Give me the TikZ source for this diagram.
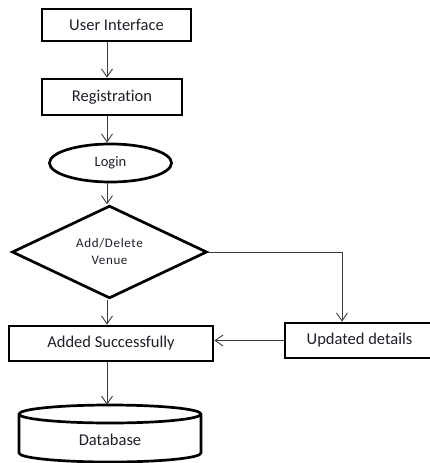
\documentclass[tikz,border=0pt]{standalone}
\usepackage{fontspec}
\setmainfont{Carlito}[Ligatures=NoCommon]
\usetikzlibrary{arrows.meta,shapes.geometric}
\definecolor{inkline}{HTML}{000000}
\definecolor{flowline}{HTML}{3C3C3C}
\definecolor{labeltext}{HTML}{1E1E28}
\tikzset{
  procbox/.style={draw=inkline, line width=2.7pt, fill=white, inner sep=0pt,
    text=labeltext, font=\fontsize{16.5}{19}\selectfont},
  flow/.style={draw=flowline, line width=0.9pt,
    -{Straight Barb[length=8pt,width=11pt,line width=0.9pt]}},
}
\begin{document}
\begin{tikzpicture}[x=1pt,y=-1pt]
  \useasboundingbox (0,0) rectangle (430,463);
  \clip (0,0) rectangle (430,463);
  % column of the main flow
  \coordinate (col) at (107,0);
  % boxes and shapes
  \node[procbox, minimum width=149pt, minimum height=32pt] (ui) at (116.5,25) {User Interface};
  \node[procbox, minimum width=140pt, minimum height=36pt] (reg) at (112,97) {Registration};
  \node[procbox, ellipse, minimum width=122pt, minimum height=38pt,
        font=\fontsize{14.5}{17}\selectfont] (login) at (110.5,163) {Login};
  \node[procbox, diamond, minimum width=195pt, minimum height=90pt,
        font=\fontsize{13}{17}\selectfont, align=center] (dia) at (109.5,252)
        {\addfontfeature{LetterSpace=5}Add/Delete\\\addfontfeature{LetterSpace=5}Venue};
  \node[procbox, minimum width=204pt, minimum height=35pt] (added) at (111,343.5) {Added Successfully};
  \node[procbox, minimum width=149pt, minimum height=35pt] (upd) at (359.5,340.5) {Updated details};
  % database cylinder: body with the back half of the lid, then the front half of the lid
  \node[inner sep=0pt, minimum width=182pt, minimum height=58pt] (db) at (110,434) {};
  \draw[inkline, line width=2.7pt, fill=white, line join=round]
    (19,414) -- (19,453) arc[start angle=180, end angle=0, x radius=91, y radius=9]
    -- (201,414) arc[start angle=0, end angle=-180, x radius=91, y radius=9] -- cycle;
  \draw[inkline, line width=2.7pt] (19,414) arc[start angle=180, end angle=0, x radius=91, y radius=9];
  \node[text=labeltext, font=\fontsize{16.5}{19}\selectfont] (dblabel) at (110,440) {Database};
  % connectors
  \coordinate (drop) at (342,252);
  \draw[flow] (ui.south -| col) -- (reg.north -| col);
  \draw[flow] (reg.south -| col) -- (login.north -| col);
  \draw[flow] (login.south -| col) -- (dia.north -| col);
  \draw[flow] (dia.south -| col) -- (added.north -| col);
  \draw[flow] (dia.east) -- (drop) -- (upd.north -| drop);
  \draw[flow] (upd.west) -- (upd.west -| added.east);
  \draw[flow] (added.south -| col) -- (db.north -| col);
\end{tikzpicture}
\end{document}
